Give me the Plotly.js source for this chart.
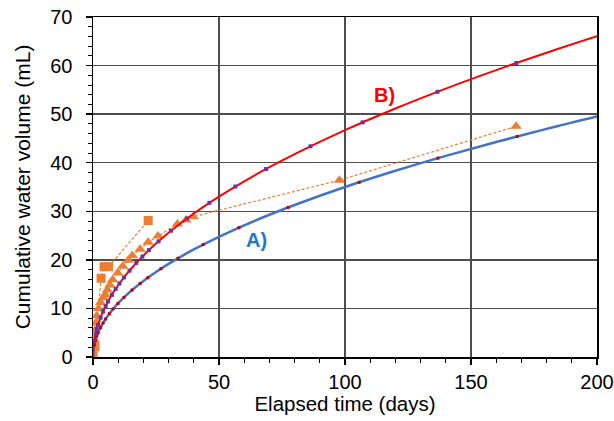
<!DOCTYPE html>
<html>
<head>
<meta charset="utf-8">
<script src="https://cdn.plot.ly/plotly-3.0.1.min.js"></script>
<style>html,body{margin:0;padding:0;background:#fff;}#chart{width:614px;height:421px;}</style>
</head>
<body>
<div id="chart"></div>
<script>
// Fitted curves
const curveT = [0, 0.1, 0.25, 0.5, 1, 2, 3, 4, 6, 8, 10, 13, 16, 20, 25, 30, 40, 50, 60, 70, 80, 100, 120, 140, 160, 180, 200];
const curveA = [0, 1.11, 1.75, 2.47, 3.5, 4.95, 6.06, 7.0, 8.57, 9.9, 11.07, 12.62, 14.0, 15.65, 17.5, 19.17, 22.14, 24.75, 27.11, 29.28, 31.3, 35.0, 38.34, 41.41, 44.27, 46.96, 49.5];
const curveB = [0, 1.48, 2.34, 3.30, 4.67, 6.60, 8.09, 9.34, 11.44, 13.21, 14.77, 16.84, 18.68, 20.88, 23.35, 25.58, 29.54, 33.02, 36.17, 39.07, 41.77, 46.7, 51.16, 55.26, 59.07, 62.65, 66.04];

// Small markers on the curves
const markA_t = [0.5, 1, 1.5, 2, 3, 4, 5, 6.5, 8, 9.9, 12.3, 15.5, 18.7, 21.8, 27, 33.7, 43.7, 57.9, 77.4, 105.6, 136.9, 168.3];
const markA_v = [2.47, 3.5, 4.29, 4.95, 6.06, 7.0, 7.83, 8.92, 9.90, 11.01, 12.27, 13.78, 15.14, 16.34, 18.19, 20.32, 23.14, 26.63, 30.79, 35.97, 40.95, 45.41];
const markB_t = [0.5, 1, 1.5, 2, 3, 4, 5, 6, 7.5, 9, 10.5, 12.3, 14.5, 17.2, 19.6, 22.2, 26, 31, 37.3, 46.2, 56.5, 68.7, 86.3, 107, 136.7, 168];
const markB_v = [3.30, 4.67, 5.72, 6.60, 8.09, 9.34, 10.44, 11.44, 12.79, 14.01, 15.13, 16.38, 17.78, 19.37, 20.67, 22.00, 23.81, 26.00, 28.52, 31.74, 35.10, 38.71, 43.38, 48.31, 54.60, 60.53];

// Measured data (orange)
const triT = [0, 0.3, 0.6, 0.8, 1, 1.5, 2.2, 3, 4, 4.8, 5.7, 6.7, 7.8, 9.8, 11.8, 14.0, 15.6, 18.7, 21.9, 25.8, 33.5, 36.9, 39.8, 97.8, 167.9];
const triV = [0.3, 2.0, 3.5, 5.5, 7.0, 8.5, 10.0, 11.2, 12.2, 12.8, 13.8, 14.8, 15.9, 17.3, 18.7, 19.9, 20.9, 22.2, 23.6, 24.9, 27.4, 28.2, 28.9, 36.4, 47.5];
const sqT = [0, 0.8, 3.2, 4.4, 6.2, 21.9];
const sqV = [0.3, 2.1, 16.2, 18.6, 18.6, 28.1];

const xTickVals = [0, 50, 100, 150, 200];
const yTickVals = [0, 10, 20, 30, 40, 50, 60, 70];

const orange = '#ED7D31';
const traces = [
  {x: sqT, y: sqV, mode: 'lines+markers', line: {color: orange, width: 1.2, dash: '3px,2px'},
   marker: {symbol: 'square', size: 9, color: orange}, hoverinfo: 'skip'},
  {x: triT, y: triV, mode: 'lines+markers', line: {color: orange, width: 1.2, dash: '3px,2px'},
   marker: {symbol: 'triangle-up', size: 10, color: orange}, hoverinfo: 'skip'},
  {x: curveT, y: curveA, mode: 'lines', line: {color: '#4472C4', width: 2.5, shape: 'spline'}},
  {x: curveT, y: curveB, mode: 'lines', line: {color: '#FF0000', width: 2, shape: 'spline'}},
  {x: markA_t, y: markA_v, mode: 'markers', marker: {symbol: 'square', size: 3, color: '#C00000'}},
  {x: markB_t, y: markB_v, mode: 'markers', marker: {symbol: 'square', size: 4, color: '#7030A0'}}
];

const font = {family: 'Liberation Sans, Arial, sans-serif', color: '#000'};
const layout = {
  width: 614, height: 421,
  margin: {l: 93, r: 17, t: 17, b: 64},
  paper_bgcolor: '#fff', plot_bgcolor: '#fff',
  showlegend: false,
  font: Object.assign({size: 20}, font),
  xaxis: {
    range: [0, 200], tickvals: xTickVals, ticktext: xTickVals.map(String),
    showgrid: true, gridcolor: '#4d4d4d', gridwidth: 1.5,
    zeroline: false, showline: true, linecolor: '#000', linewidth: 1.5, mirror: true,
    ticks: 'outside', ticklen: 6, tickwidth: 1.5, tickcolor: '#000',
    minor: {dtick: 10, ticks: 'outside', ticklen: 4, tickcolor: '#000', tickwidth: 1, showgrid: false},
    tickfont: Object.assign({size: 20}, font),
    title: {text: 'Elapsed time (days)', font: Object.assign({size: 20.5}, font), standoff: 4}
  },
  yaxis: {
    range: [0, 70], tickvals: yTickVals, ticktext: yTickVals.map(String),
    showgrid: true, gridcolor: '#4d4d4d', gridwidth: 1.5,
    zeroline: false, showline: true, linecolor: '#000', linewidth: 1.5, mirror: true,
    ticks: 'outside', ticklen: 6, tickwidth: 1.5, tickcolor: '#000',
    minor: {dtick: 2, ticks: 'outside', ticklen: 4, tickcolor: '#000', tickwidth: 1, showgrid: false},
    tickfont: Object.assign({size: 20}, font), ticklabelstandoff: 9,
    title: {text: 'Cumulative water volume (mL)', font: Object.assign({size: 21}, font), standoff: 14}
  },
  annotations: [
    {x: 64.7, y: 24.1, xref: 'x', yref: 'y', text: '<b>A)</b>', showarrow: false,
     font: Object.assign({}, font, {size: 20, color: '#1F78C8'})},
    {x: 115.5, y: 54.0, xref: 'x', yref: 'y', text: '<b>B)</b>', showarrow: false,
     font: Object.assign({}, font, {size: 20, color: '#FF0000'})}
  ]
};

Plotly.newPlot('chart', traces, layout, {staticPlot: true, displayModeBar: false});
</script>
</body>
</html>
